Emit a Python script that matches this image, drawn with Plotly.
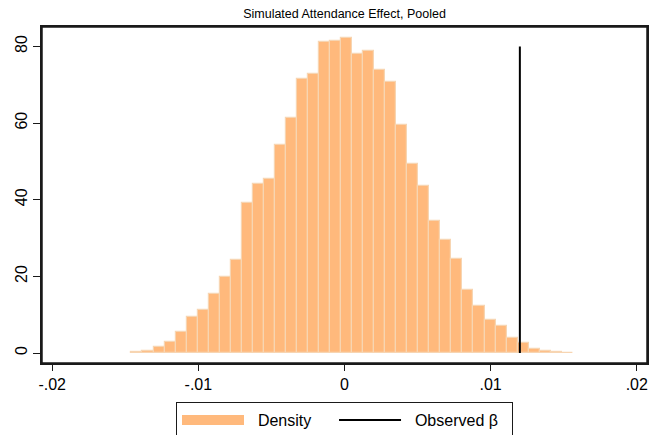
import numpy as np
import plotly.graph_objects as go

# Histogram of simulated coefficients (density scale)
bin_start = -0.01458
bin_width = 0.000755
density = [0.26, 0.5, 1.5, 2.8, 5.6, 9.3, 11.1, 15.4, 19.8, 24.2,
           39.2, 44.0, 45.5, 54.4, 61.4, 71.5, 72.9, 81.1, 81.3, 82.2,
           78.1, 78.7, 73.9, 70.7, 59.4, 49.3, 43.5, 34.5, 29.5, 24.5,
           16.4, 12.2, 8.6, 7.1, 4.0, 2.6, 1.0, 0.6, 0.26, 0.1]
observed_beta = 0.0120
line_y = [0, 80]

x_ticks = [-0.02, -0.01, 0.0, 0.01, 0.02]
x_ticktext = ["-.02", "-.01", "0", ".01", ".02"]
y_ticks = [0, 20, 40, 60, 80]

centers = bin_start + bin_width * (np.arange(len(density)) + 0.5)
bar_color = "#FFB97C"
frame_color = "#1a1a1a"

# page body has an 8px default margin: offset layout accordingly
OFF = 8
W, H = 657, 435
ML, MR, MT, MB = 42 - OFF, 10 + OFF, 27 - OFF, 72 + OFF
PW = W - ML - MR
NB = "\u00a0\u00a0"

fig = go.Figure()
fig.add_trace(go.Bar(
    x=centers, y=density, width=bin_width, name="Density", showlegend=False,
    marker=dict(color=bar_color, line=dict(color="#F7D5B2", width=1.2)),
))
# legend key for the histogram (wide swatch)
fig.add_trace(go.Scatter(
    x=[None], y=[None], mode="lines", name=NB + "Density" + "\u00a0\u00a0\u00a0\u00a0",
    line=dict(color=bar_color, width=18),
))
fig.add_trace(go.Scatter(
    x=[observed_beta, observed_beta], y=line_y, mode="lines",
    name=NB + "Observed β" + "\u00a0\u00a0", line=dict(color="black", width=2),
))

font = "Liberation Sans, Arial, Helvetica, sans-serif"
fig.update_layout(
    width=W, height=H,
    margin=dict(l=ML, r=MR, t=MT, b=MB, autoexpand=False),
    paper_bgcolor="white", plot_bgcolor="white",
    font=dict(family=font, size=16, color="black"),
    title=dict(text="Simulated Attendance Effect, Pooled", x=0.5, xanchor="center",
               xref="paper", y=1 - (14 - OFF) / H, yanchor="middle",
               font=dict(size=12.5, family=font, color="black")),
    bargap=0,
    showlegend=True,
    legend=dict(orientation="h", x=(176 - OFF - ML) / PW, xanchor="left", xref="paper",
                y=1 - (402 - OFF) / H, yanchor="top", yref="container",
                bordercolor=frame_color, borderwidth=1, font=dict(size=16),
                itemwidth=62, traceorder="normal"),
    shapes=[dict(type="rect", xref="paper", yref="paper", x0=0, x1=1, y0=0, y1=1,
                 line=dict(color=frame_color, width=1.5), fillcolor="rgba(0,0,0,0)",
                 layer="above")],
)
fig.update_xaxes(range=[-0.0207, 0.0207], tickvals=x_ticks, ticktext=x_ticktext,
                 showgrid=False, zeroline=False, showline=True, linecolor=frame_color,
                 linewidth=1.5, mirror=True, ticks="outside", ticklen=6, tickwidth=1.2,
                 tickcolor=frame_color, tickfont=dict(size=16), automargin=False)
fig.update_yaxes(range=[-2.6, 85.06], tickvals=y_ticks, tickangle=-90,
                 showgrid=False, zeroline=False, showline=True, linecolor=frame_color,
                 linewidth=1.5, mirror=True, ticks="outside", ticklen=7, tickwidth=1.2,
                 tickcolor=frame_color, tickfont=dict(size=16), automargin=False,
                 ticklabelstandoff=0)

fig.write_html("out.html")
